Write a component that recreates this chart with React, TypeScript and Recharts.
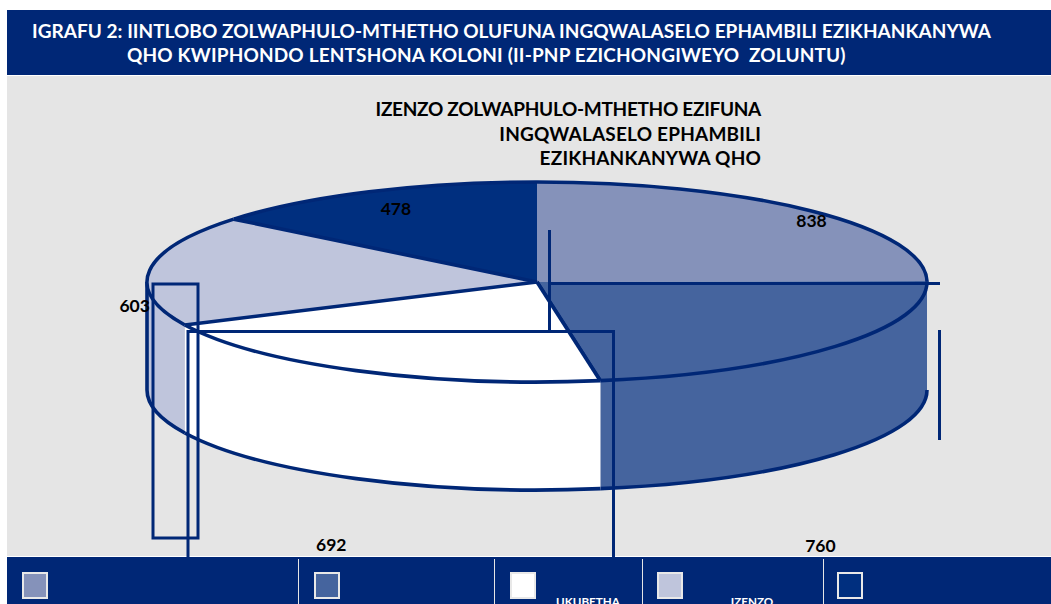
import React from "react";
import { PieChart, Pie, Cell, Legend } from "recharts";

const categories = ["", "", "UKUBETHA", "IZENZO", ""];
const values = [838, 760, 692, 603, 478];
const colors = ["#8592BA", "#45649E", "#FFFFFF", "#BFC5DC", "#002F7F"];
const titleLines = [
  "IGRAFU 2: IINTLOBO ZOLWAPHULO-MTHETHO OLUFUNA INGQWALASELO EPHAMBILI EZIKHANKANYWA",
  "QHO KWIPHONDO LENTSHONA KOLONI (II-PNP EZICHONGIWEYO  ZOLUNTU)",
];
const titleSpacing = [0.03, 0.16];
const subtitleLines = ["IZENZO ZOLWAPHULO-MTHETHO EZIFUNA", "INGQWALASELO EPHAMBILI", "EZIKHANKANYWA QHO"];
const subtitleSpacing = [-0.3, 0.2, 0.18];
const labelOffsets = [[0, 10], [-15, 199], [-25, 174], [-15, 35], [27, 17]];
const legendSlots = [
  { left: 7, width: 291, swatch: 15 },
  { left: 298, width: 196, swatch: 16 },
  { left: 494, width: 148, swatch: 16 },
  { left: 642, width: 181, swatch: 15 },
  { left: 823, width: 228, swatch: 14 },
];
const legendTextCenter = [0, 0, 94, 110, 0];

const data = categories.map((name, i) => ({ name, value: values[i] }));

const FONT = "Lato, sans-serif";
const NAVY = "#002776";
const CX = 537;
const CY = 282;
const RX = 390;
const RY = 100;
const DEPTH = 108;
const RAD = Math.PI / 180;
const RIM = 3.6;

const pt = (a: number, dy = 0) => [CX + RX * Math.cos(a * RAD), CY + dy - RY * Math.sin(a * RAD)];
const arc = (a: number, b: number, dy: number, sweep: number) => {
  const [x, y] = pt(b, dy);
  const large = Math.abs(a - b) > 180 ? 1 : 0;
  return `A ${RX} ${RY} 0 ${large} ${sweep} ${x} ${y}`;
};

function TopSlice(props: any) {
  const { startAngle: s, endAngle: e, fill, index } = props;
  const [sx, sy] = pt(s);
  const [ex, ey] = pt(e);
  return (
    <g>
      <path d={`M ${CX} ${CY} L ${sx} ${sy} ${arc(s, e, 0, 1)} Z`} fill={fill} stroke="none" />
      <path d={`M ${sx} ${sy} ${arc(s, e, 0, 1)}`} fill="none" stroke={NAVY} strokeWidth={RIM} />
      {index >= 2 && <line x1={CX} y1={CY} x2={sx} y2={sy} stroke={NAVY} strokeWidth={RIM} />}
      {index === 1 && <line x1={CX} y1={CY} x2={ex} y2={ey} stroke={NAVY} strokeWidth={RIM} />}
    </g>
  );
}

function WallSlice(props: any) {
  const { startAngle, endAngle, fill } = props;
  const s = Math.min(startAngle, 0);
  const e = Math.max(endAngle, -180);
  if (s <= e) return <g />;
  const [tx, ty] = pt(s);
  const [ex, ey] = pt(e);
  const [bex, bey] = pt(e, DEPTH);
  const [bsx, bsy] = pt(s, DEPTH);
  return (
    <g>
      <path
        d={`M ${tx} ${ty} ${arc(s, e, 0, 1)} L ${bex} ${bey} ${arc(e, s, DEPTH, 0)} Z`}
        fill={fill}
        stroke="none"
      />
      <path d={`M ${bsx} ${bsy} ${arc(s, e, DEPTH, 1)}`} fill="none" stroke={NAVY} strokeWidth={RIM} />
      {e === -180 && <line x1={ex} y1={ey} x2={bex} y2={bey} stroke={NAVY} strokeWidth={RIM} />}
    </g>
  );
}

function renderLabel(props: any) {
  const { midAngle, value, index } = props;
  const [x, y] = pt(midAngle);
  const [dx, dy] = labelOffsets[index];
  return (
    <text
      x={x + dx}
      y={y + dy}
      textAnchor="middle"
      dominantBaseline="central"
      fontFamily={FONT}
      fontWeight={700}
      fontSize={17.5}
      fill="#000"
    >
      {value}
    </text>
  );
}

function LegendBand() {
  return (
    <div style={{ position: "relative", width: 1044, height: 47, background: NAVY, overflow: "hidden" }}>
      {legendSlots.map((slot, i) => (
        <div key={i}>
          {i > 0 && (
            <div style={{ position: "absolute", left: slot.left - 7, top: 2, width: 1, height: 46, background: "#E5E5E5" }} />
          )}
          <div
            style={{
              position: "absolute",
              left: slot.left - 7 + slot.swatch,
              top: 15,
              width: 22,
              height: 23,
              background: colors[i],
              border: "2px solid #E8E8E8",
            }}
          />
          {categories[i] && (
            <div
              style={{
                position: "absolute",
                left: slot.left - 7 + legendTextCenter[i] - 50,
                width: 100,
                top: 38,
                textAlign: "center",
                color: "#fff",
                fontFamily: FONT,
                fontWeight: 700,
                fontSize: 11.7,
                lineHeight: "13px",
              }}
            >
              {categories[i]}
            </div>
          )}
        </div>
      ))}
    </div>
  );
}

const textBase: React.CSSProperties = { position: "absolute", fontFamily: FONT, fontWeight: 700, whiteSpace: "pre" };

export default function App() {
  return (
    <div style={{ position: "absolute", left: 0, top: 0, width: 1051, height: 604, overflow: "hidden", background: "#fff" }}>
      <div style={{ position: "absolute", left: 7, top: 10, width: 1044, height: 65, background: NAVY }} />
      <div style={{ position: "absolute", left: 7, top: 76, width: 1044, height: 480, background: "#E5E5E5" }} />
      {titleLines.map((t, i) => (
        <div
          key={i}
          style={{ ...textBase, left: i === 0 ? 32 : 127, top: 19 + i * 24, color: "#fff", fontSize: 19, lineHeight: "24px", letterSpacing: titleSpacing[i] }}
        >
          {t}
        </div>
      ))}
      {subtitleLines.map((t, i) => (
        <div
          key={i}
          style={{ ...textBase, right: 1051 - 761, top: 97 + i * 24.5, color: "#000", fontSize: 19, lineHeight: "24px", letterSpacing: subtitleSpacing[i] }}
        >
          {t}
        </div>
      ))}
      <div style={{ position: "absolute", left: 0, top: 0 }}>
        <PieChart width={1051} height={604} margin={{ top: 0, right: 0, bottom: 0, left: 0 }}>
          <Pie
            data={data}
            dataKey="value"
            cx={CX}
            cy={CY}
            outerRadius={RX}
            startAngle={90}
            endAngle={-270}
            stroke="none"
            legendType="none"
            shape={WallSlice}
            isAnimationActive={false}
          >
            {colors.map((c, i) => (
              <Cell key={i} fill={c} />
            ))}
          </Pie>
          <Pie
            data={data}
            dataKey="value"
            cx={CX}
            cy={CY}
            outerRadius={RX}
            startAngle={90}
            endAngle={-270}
            stroke="none"
            shape={TopSlice}
            label={renderLabel}
            labelLine={false}
            isAnimationActive={false}
          >
            {colors.map((c, i) => (
              <Cell key={i} fill={c} />
            ))}
          </Pie>
          <Legend content={<LegendBand />} wrapperStyle={{ position: "absolute", left: 7, top: 557, width: 1044, height: 47 }} />
        </PieChart>
      </div>
      <svg width={1051} height={604} style={{ position: "absolute", left: 0, top: 0, pointerEvents: "none" }}>
        <g fill="none" stroke={NAVY} strokeWidth={3}>
          <rect x={153} y={284} width={45} height={254} />
          <polyline points="188,557 188,331.5 613.5,331.5 613.5,557" />
          <line x1={549.5} y1={230} x2={549.5} y2={331} />
          <line x1={549} y1={283.5} x2={940} y2={283.5} />
          <line x1={939.5} y1={330} x2={939.5} y2={440} />
        </g>
      </svg>
    </div>
  );
}
